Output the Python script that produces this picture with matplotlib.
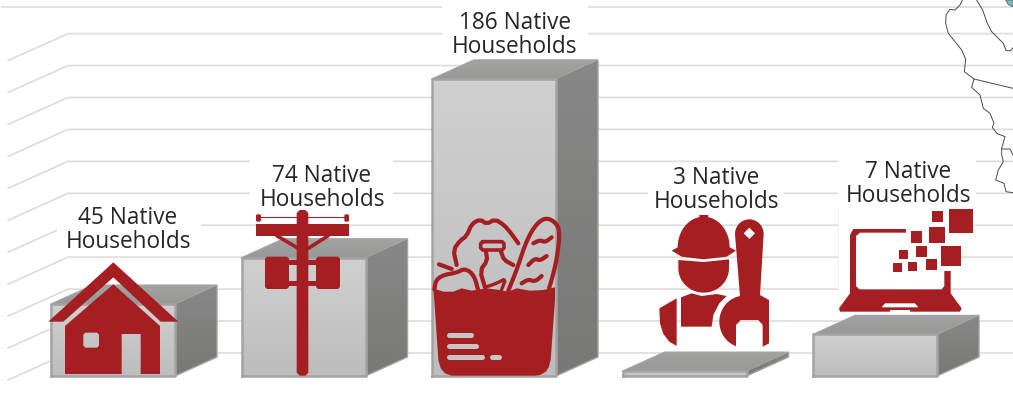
import numpy as np
import matplotlib
matplotlib.use('Agg')
import matplotlib.pyplot as plt
from matplotlib.patches import Polygon, PathPatch, Rectangle
from matplotlib.path import Path

# chart data
households = [45, 74, 186, 3, 7]
# heights as drawn, the fifth box is taller in the source than its label says
bar_levels = [45, 74, 186, 3, 26]
grid_levels = [14.4, 34.4, 54.4, 74.4, 94.4, 114.4, 134.4, 154.4, 174.4, 194.4, 214.4]
top_level = 231.0

RED = '#A51E22'
GRID = '#DEDEDE'
W, H = 1013, 403

plt.rcParams['font.family'] = ['Open Sans', 'DejaVu Sans']
fig = plt.figure(figsize=(W / 100, H / 100), dpi=100)

# chart axes: x = category index, y = households
ax = fig.add_axes([0, 0, 1, 1])
xlim = (-113 / 190.5, (W - 113) / 190.5)
ylim = (-27 / 1.597, 376 / 1.597)
ax.axis('off')

# overlay in pixels, for icons and labels
ov = fig.add_axes([0, 0, 1, 1], zorder=5)
ov.set_xlim(0, W)
ov.set_ylim(H, 0)
ov.axis('off')
ov.patch.set_alpha(0)

bar_w = 124 / 190.5
depth_x = 42 / 190.5
depth_y = 19 / 1.597
wall_x0 = (68 - 113) / 190.5
wall_x1 = (8 - 113) / 190.5
wall_dy = 27 / 1.597

# gridlines
for g in grid_levels:
    ax.plot([wall_x1, wall_x0, xlim[1]], [g - wall_dy, g, g], color=GRID, lw=1.3, zorder=1)
ax.plot([(2 - 113) / 190.5, xlim[1]], [top_level, top_level], color=GRID, lw=1.3, zorder=1)


def gradient(poly, c0, c1, z=3):
    # fill a polygon with a two colour gradient, top to bottom
    poly = np.array(poly)
    patch = Polygon(poly, closed=True, fc='none', ec='none', zorder=z)
    ax.add_patch(patch)
    c0 = np.array(matplotlib.colors.to_rgb(c0))
    c1 = np.array(matplotlib.colors.to_rgb(c1))
    t = np.linspace(0, 1, 64)
    img = (c0 + (c1 - c0) * t[:, None])[:, None, :]
    im = ax.imshow(img, aspect='auto', origin='upper', zorder=z,
                   extent=(poly[:, 0].min(), poly[:, 0].max(), poly[:, 1].min(), poly[:, 1].max()))
    im.set_clip_path(patch)


# white boxes that sit behind the labels and the laptop
label_boxes = [(57, 202, 144, 50), (250, 158, 143, 50), (442, 5, 146, 52), (648, 163, 136, 50), (838, 158, 138, 50),
               (838, 207, 135, 33), (838, 240, 122, 35), (838, 275, 112, 37)]
for bx, by, bw, bh in label_boxes:
    ax.add_patch(Rectangle((bx, by), bw, bh, fc='white', ec='none', zorder=2, transform=ov.transData))
ax.plot([838, 838], [207, 300], color='#F0F0F0', lw=0.6, zorder=2, transform=ov.transData)

# the boxes
for i, v in enumerate(bar_levels):
    x0 = i - 62 / 190.5
    x1 = x0 + bar_w
    gradient([(x0, v), (x1, v), (x1 + depth_x, v + depth_y), (x0 + depth_x, v + depth_y)], '#A2A2A0', '#989898')
    gradient([(x1, 0), (x1 + depth_x, depth_y), (x1 + depth_x, v + depth_y), (x1, v)], '#888888', '#787876')
    gradient([(x0, 0), (x1, 0), (x1, v), (x0, v)], '#D0D0D0', '#BDBDBD')
    ax.plot([x0, x1, x1, x0, x0], [0, 0, v, v, 0], color='#A3A3A3', lw=1.8, zorder=4, solid_joinstyle='round')
    ax.plot([x1, x1 + depth_x, x1 + depth_x, x0 + depth_x, x0], [0, depth_y, v + depth_y, v + depth_y, v],
            color='#A3A3A3', lw=1.0, zorder=4)
ax.set_xlim(*xlim)
ax.set_ylim(*ylim)


def zoomed(pts, x0, y0):
    pts = np.array(pts, dtype=float)
    return np.column_stack([x0 + pts[:, 0] / 3, y0 + pts[:, 1] / 3])


def arc(cx, cy, rx, ry, a0, a1, n=24):
    # angles in degrees, y runs down in the crops
    t = np.radians(np.linspace(a0, a1, n))
    return [(cx + rx * np.cos(a), cy + ry * np.sin(a)) for a in t]


def smooth_open(pts, n=2):
    p = np.array(pts, dtype=float)
    for _ in range(n):
        a, b = p[:-1], p[1:]
        mid = np.column_stack([0.75 * a + 0.25 * b, 0.25 * a + 0.75 * b]).reshape(-1, 2)
        p = np.vstack([p[0], mid, p[-1]])
    return p


def signed_area(p):
    return 0.5 * np.sum(p[:, 0] * np.roll(p[:, 1], -1) - np.roll(p[:, 0], -1) * p[:, 1])


def fill(outer, holes=()):
    # filled shape, holes let the gradient show through
    verts, codes = [], []
    for k, p in enumerate([outer] + list(holes)):
        p = np.array(p)
        want_pos = k == 0
        if (signed_area(p) > 0) != want_pos:
            p = p[::-1]
        verts += list(p) + [p[0]]
        codes += [Path.MOVETO] + [Path.LINETO] * (len(p) - 1) + [Path.CLOSEPOLY]
    ov.add_patch(PathPatch(Path(verts, codes), fc=RED, ec='none', zorder=3))


def stroke(pts, lw, color=RED):
    pts = np.array(pts)
    ov.plot(pts[:, 0], pts[:, 1], color=color, lw=lw, solid_capstyle='round', solid_joinstyle='round', zorder=4)


def box(a, b, c, d):
    return [(a, b), (c, b), (c, d), (a, d)]


def rbox(a, b, c, d, r=6):
    return [(a + r, b), (c - r, b), (c, b + r), (c, d - r), (c - r, d), (a + r, d), (a, d - r), (a, b + r)]


# house
X, Y = 0, 200
fill(zoomed([(145, 365), (340, 187), (535, 365), (482, 365), (340, 232), (190, 365)], X, Y))
fill(zoomed([(195, 378), (340, 253), (480, 378), (480, 522), (422, 522), (422, 402), (365, 402),
             (365, 522), (195, 522)], X, Y),
     [zoomed(rbox(250, 398, 297, 443), X, Y)])

# power pole
fill(zoomed(box(768, 72, 1047, 107), X, Y))
fill(zoomed(rbox(890, 30, 925, 527, 9), X, Y))
stroke(zoomed([(775, 50), (1040, 50)], X, Y), 0.8)
fill(zoomed(rbox(768, 43, 783, 65, 3), X, Y))
fill(zoomed(rbox(1033, 43, 1047, 65, 3), X, Y))
stroke(zoomed([(830, 107), (895, 145)], X, Y), 2.6)
stroke(zoomed([(985, 107), (925, 145)], X, Y), 2.6)
fill(zoomed(rbox(795, 170, 867, 267), X, Y))
fill(zoomed(rbox(948, 170, 1020, 267), X, Y))
fill(zoomed(box(860, 180, 955, 195), X, Y))
fill(zoomed(box(860, 243, 955, 257), X, Y))

# grocery bag
X, Y = 400, 200
fill(zoomed([(100, 265), (130, 275), (160, 275), (185, 265), (215, 272), (260, 265), (300, 270), (325, 275),
             (350, 265), (390, 272), (430, 270), (465, 262), (465, 300), (452, 480), (447, 500), (438, 515),
             (420, 525), (405, 527), (155, 527), (135, 520), (122, 505), (115, 480), (105, 330)], X, Y))
for seg in [[(148, 404), (212, 404)], [(148, 437), (229, 437)], [(148, 471), (246, 471)], [(276, 471), (298, 471)]]:
    stroke(zoomed(seg, X, Y), 3.6, color='#C6C6C6')
sw = 3.0
stroke(smooth_open(zoomed([(103, 268), (108, 240), (130, 225), (170, 218), (195, 205), (222, 225), (235, 272)], X, Y)), sw)
stroke(zoomed([(117, 193), (155, 207)], X, Y), sw)
stroke(smooth_open(zoomed([(170, 195), (160, 150), (180, 122), (200, 108), (215, 72), (240, 58), (260, 72), (285, 58),
                           (312, 75), (332, 98), (355, 130)], X, Y), 1), sw)
stroke(zoomed(rbox(242, 125, 312, 150, 6), X, Y).tolist() + [zoomed([(248, 125)], X, Y)[0].tolist()], 2.6)
stroke(smooth_open(zoomed([(258, 155), (262, 182), (240, 212), (255, 262)], X, Y), 1), sw)
stroke(smooth_open(zoomed([(303, 155), (312, 180), (340, 195)], X, Y), 1), sw)
stroke(smooth_open(zoomed([(255, 262), (290, 250), (318, 235), (305, 268)], X, Y), 1), 2.4)
stroke(smooth_open(zoomed([(325, 272), (350, 210), (380, 120), (410, 70), (440, 52), (470, 70), (480, 100),
                           (470, 180), (455, 240), (447, 265)], X, Y)), sw)
stroke(smooth_open(zoomed([(400, 130), (420, 120), (435, 127), (455, 112)], X, Y)), sw)
stroke(smooth_open(zoomed([(385, 195), (405, 175), (420, 182), (440, 168)], X, Y)), sw)
stroke(smooth_open(zoomed([(365, 250), (385, 238), (405, 245), (425, 228)], X, Y)), sw)

# worker with wrench
X, Y = 610, 160
helmet = [(268, 172), (268, 165), (295, 165), (295, 172)] + arc(281, 262, 78, 92, -78, 0, 14) + \
    [(378, 272), (350, 290), (281, 298), (215, 290), (185, 272)] + arc(281, 262, 78, 92, 180, 258, 14)
fill(zoomed(helmet, X, Y))
head = [(205, 300), (281, 306), (357, 298)] + arc(281, 325, 76, 73, 0, 180)
fill(zoomed(head, X, Y))
fill(zoomed([(148, 445), (200, 415), (200, 558), (178, 545), (160, 522), (150, 490)], X, Y))
fill(zoomed([(213, 412), (245, 400), (275, 408), (320, 402), (350, 408), (328, 430), (310, 465), (305, 500), (213, 500)], X, Y))
wrench = arc(418, 222, 43, 44, 180, 360) + [(450, 405), (477, 420), (477, 550), (458, 560), (458, 495), (445, 480),
                                            (392, 480), (378, 495), (378, 560)] + arc(403, 485, 75, 78, 110, 260)
fill(zoomed(wrench, X, Y), [zoomed([(418, 203), (435, 220), (418, 237), (401, 220)], X, Y)])

# laptop
laptop = [(720, 225), (730, 207), (888, 207), (888, 218), (750, 218), (738, 228), (738, 378), (748, 388), (995, 388),
          (1003, 378), (1003, 333), (1022, 333), (1022, 400), (1055, 445), (1050, 455), (900, 455), (900, 450),
          (840, 450), (840, 455), (690, 455), (687, 445), (720, 400)]
fill(zoomed(laptop, X, Y), [zoomed([(825, 430), (915, 430), (925, 442), (815, 442)], X, Y)])
for a, b, c, d in [(1016, 147, 1088, 220), (965, 152, 999, 186), (957, 200, 1005, 248), (904, 214, 937, 248),
                   (993, 258, 1052, 318), (918, 258, 951, 291), (866, 270, 895, 298), (948, 296, 982, 329),
                   (894, 305, 922, 333), (848, 308, 877, 337)]:
    fill(zoomed(box(a, b, c, d), X, Y))

# map outline in the corner
X, Y = 900, 0
edge = '#4A4A4A'
for seg in [[(187, 0), (180, 15), (165, 30), (150, 28), (138, 45), (137, 70), (145, 100), (165, 125), (185, 150),
             (197, 178), (193, 215), (222, 237), (215, 262), (240, 285), (250, 325), (270, 340), (282, 370),
             (277, 382), (290, 400), (315, 410), (305, 445), (305, 465), (310, 485), (295, 510), (287, 540),
             (312, 550), (318, 575), (339, 578)],
            [(222, 237), (339, 265)],
            [(305, 447), (330, 447), (339, 465)],
            [(230, 0), (248, 30), (262, 70), (275, 95), (310, 130), (318, 152), (332, 152), (339, 143)]]:
    p = zoomed(seg, X, Y)
    ov.plot(p[:, 0], p[:, 1], color=edge, lw=0.7, zorder=3)
ov.add_patch(Polygon(zoomed([(317, 0), (339, 0), (339, 20), (325, 14)], X, Y), fc='#7FBFC4', ec=edge, lw=0.5, zorder=3))

# labels
label_x = [128, 322, 515, 716, 908]
label_y = [230, 187.5, 35, 190, 184.5]
for n, lx, ly in zip(households, label_x, label_y):
    ov.text(lx, ly, f'{n} Native\nHouseholds', ha='center', va='center', fontsize=16.3,
            color='#262626', linespacing=1.0, zorder=6)

fig.savefig('out.png', dpi=100)
